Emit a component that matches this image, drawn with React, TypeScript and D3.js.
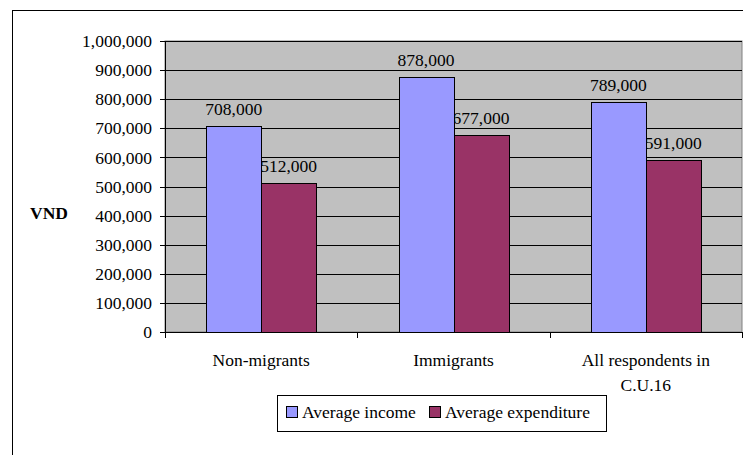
import React from "react";
import * as d3 from "d3";

const categories: string[][] = [["Non-migrants"], ["Immigrants"], ["All respondents in", "C.U.16"]];
const seriesNames = ["Average income", "Average expenditure"];
const incomeValues = [708000, 878000, 789000];
const expenditureValues = [512000, 677000, 591000];
const yTicks = [0, 100000, 200000, 300000, 400000, 500000, 600000, 700000, 800000, 900000, 1000000];
const seriesColors = ["#9999FF", "#993366"];

const W = 743;
const H = 455;
const plot = { left: 165, top: 41, right: 742, bottom: 332 };
const FONT = "Liberation Serif, Tinos, DejaVu Serif, serif";
const FS = 17.5;

export default function App() {
  const fmt = d3.format(",");
  const y = d3.scaleLinear().domain([0, 1000000]).range([plot.bottom, plot.top]);
  const keys = categories.map((c) => c.join(" "));
  const x0 = d3.scaleBand().domain(keys).range([plot.left, plot.right]).padding(0);
  const bw = x0.bandwidth() / 3.5;
  const x1 = d3
    .scaleBand()
    .domain(seriesNames)
    .range([0.75 * bw, 2.75 * bw])
    .padding(0);

  const series = [incomeValues, expenditureValues];
  const bars = series.flatMap((vals, si) =>
    vals.map((v, ci) => ({
      key: `${si}-${ci}`,
      x: (x0(keys[ci]) as number) + (x1(seriesNames[si]) as number),
      w: x1.bandwidth(),
      y: y(v),
      h: y(0) - y(v),
      v,
      color: seriesColors[si],
    }))
  );

  const boundaries = [...keys.map((k) => x0(k) as number), plot.right];
  const txt = { fontFamily: FONT, fontSize: FS } as React.CSSProperties;

  return (
    <svg width={W} height={H} style={{ position: "absolute", left: 0, top: 0, background: "#fff" }}>
      {/* chart frame */}
      <rect x={12.5} y={10.5} width={W + 20} height={H + 20} fill="#fff" stroke="#000" strokeWidth={1} />

      {/* plot area */}
      <rect
        x={plot.left}
        y={plot.top}
        width={plot.right - plot.left}
        height={plot.bottom - plot.top}
        fill="#C0C0C0"
        stroke="#808080"
        strokeWidth={1}
      />

      {/* gridlines */}
      {yTicks.slice(1).map((t) => (
        <line key={t} x1={plot.left} x2={plot.right} y1={Math.round(y(t)) + 0.5} y2={Math.round(y(t)) + 0.5} stroke="#000" strokeWidth={1} />
      ))}

      {/* value labels (bars drawn afterwards sit above them) */}
      {bars.map((b) => (
        <text key={"l" + b.key} style={txt} x={b.x + b.w / 2} y={b.y - 11} textAnchor="middle" fill="#000">
          {fmt(b.v)}
        </text>
      ))}

      {/* bars */}
      {bars.map((b) => (
        <rect
          key={b.key}
          x={Math.round(b.x) + 0.5}
          y={Math.round(b.y) + 0.5}
          width={Math.round(b.w)}
          height={Math.round(b.h)}
          fill={b.color}
          stroke="#000"
          strokeWidth={1}
        />
      ))}

      {/* y axis */}
      <line x1={plot.left + 0.5} x2={plot.left + 0.5} y1={plot.top} y2={plot.bottom + 0.5} stroke="#000" />
      {yTicks.map((t) => (
        <g key={"yt" + t}>
          <line x1={plot.left - 5} x2={plot.left} y1={Math.round(y(t)) + 0.5} y2={Math.round(y(t)) + 0.5} stroke="#000" />
          <text style={txt} x={152} y={y(t)} dy="0.35em" textAnchor="end" fill="#000">
            {fmt(t)}
          </text>
        </g>
      ))}

      {/* x axis */}
      <line x1={plot.left} x2={plot.right} y1={plot.bottom + 0.5} y2={plot.bottom + 0.5} stroke="#000" />
      {boundaries.map((bx, i) => (
        <line key={"xt" + i} x1={Math.round(bx) + 0.5} x2={Math.round(bx) + 0.5} y1={plot.bottom} y2={plot.bottom + 6} stroke="#000" />
      ))}
      {categories.map((lines, i) => (
        <text key={"c" + i} style={txt} x={(x0(keys[i]) as number) + x0.bandwidth() / 2} y={366} textAnchor="middle" fill="#000">
          {lines.map((ln, j) => (
            <tspan key={j} x={(x0(keys[i]) as number) + x0.bandwidth() / 2} dy={j === 0 ? 0 : 24.5}>
              {ln}
            </tspan>
          ))}
        </text>
      ))}

      {/* axis title */}
      <text style={txt} x={30} y={219} fontWeight="bold" fill="#000">
        VND
      </text>

      {/* legend */}
      <rect x={277.5} y={395.5} width={329} height={36} fill="#fff" stroke="#000" strokeWidth={1} />
      <rect x={286.5} y={406.5} width={11} height={11} fill={seriesColors[0]} stroke="#000" />
      <text style={txt} x={302} y={418} fill="#000">
        {seriesNames[0]}
      </text>
      <rect x={429.5} y={406.5} width={11} height={11} fill={seriesColors[1]} stroke="#000" />
      <text style={txt} x={445} y={418} fill="#000">
        {seriesNames[1]}
      </text>
    </svg>
  );
}
